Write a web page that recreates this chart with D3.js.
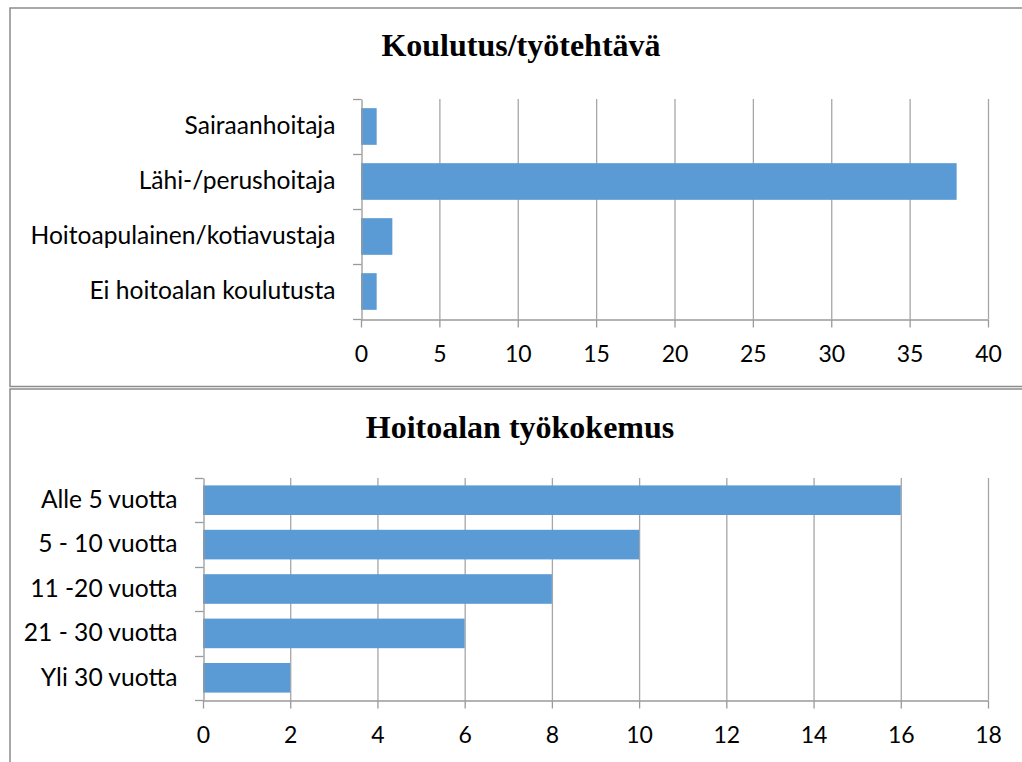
<!DOCTYPE html>
<html>
<head>
<meta charset="utf-8">
<script src="https://cdn.jsdelivr.net/npm/d3@7"></script>
<style>
  body { margin: 0; background: #fff; }
  svg { display: block; }
  .tick text { font-family: Lato, "Open Sans", sans-serif; fill: #000; }
</style>
</head>
<body>
<svg id="the-svg" width="1022" height="762"></svg>
<script>
// chart 1: Koulutus/työtehtävä
var eduCategories = ["Sairaanhoitaja", "Lähi-/perushoitaja", "Hoitoapulainen/kotiavustaja", "Ei hoitoalan koulutusta"];
var eduValues = [1, 38, 2, 1];
var eduTicks = [0, 5, 10, 15, 20, 25, 30, 35, 40];

// chart 2: Hoitoalan työkokemus
var expCategories = ["Alle 5 vuotta", "5 - 10 vuotta", "11 -20 vuotta", "21 - 30 vuotta", "Yli 30 vuotta"];
var expValues = [16, 10, 8, 6, 2];
var expTicks = [0, 2, 4, 6, 8, 10, 12, 14, 16, 18];

var barColor = "#5b9bd5";
var gridColor = "#a6a6a6";
var axisColor = "#9a9a9a";
var frameColor = "#8c8c8c";

var theSvg = d3.select("#the-svg");
theSvg.append("rect").attr("width", 1022).attr("height", 762).attr("fill", "#fff");

var drawChart = function(opt) {
    var g = theSvg.append("g");

    // chart frame (left, top, bottom edges; right side runs off the page)
    g.append("path")
        .attr("d", "M1022," + opt.box[1] + "H" + opt.box[0] + "V" + opt.box[2] + (opt.box[3] ? "H1022" : ""))
        .attr("fill", "none")
        .attr("stroke", frameColor)
        .attr("stroke-width", 1.5);

    g.append("text")
        .attr("x", opt.titleX)
        .attr("y", opt.titleY)
        .attr("text-anchor", "middle")
        .attr("font-family", "'Liberation Serif', 'Times New Roman', serif")
        .attr("font-weight", "bold")
        .attr("font-size", 32)
        .attr("fill", "#000")
        .text(opt.title);

    var x = d3.scaleLinear().domain([0, d3.max(opt.ticks)]).range(opt.xRange);
    var y = d3.scaleBand().domain(opt.categories).range(opt.yRange)
        .paddingInner(1 / 3).paddingOuter(1 / 6);

    // vertical gridlines
    g.append("g")
        .selectAll("line")
        .data(opt.ticks.slice(1))
        .enter().append("line")
            .attr("x1", function(d) { return x(d) + 0.5; })
            .attr("x2", function(d) { return x(d) + 0.5; })
            .attr("y1", opt.yRange[0])
            .attr("y2", opt.yRange[1])
            .attr("stroke", gridColor)
            .attr("stroke-width", 1.3);

    // bars
    g.append("g")
        .selectAll("rect")
        .data(opt.values)
        .enter().append("rect")
            .attr("x", x(0))
            .attr("y", function(d, i) { return y(opt.categories[i]); })
            .attr("width", function(d) { return x(d) - x(0); })
            .attr("height", y.bandwidth())
            .attr("fill", barColor);

    // x axis
    var xAxis = g.append("g")
        .attr("transform", "translate(0," + (opt.yRange[1] + 0.5) + ")")
        .call(d3.axisBottom(x).tickValues(opt.ticks).tickSize(8).tickSizeOuter(0).tickPadding(18));
    xAxis.selectAll("text").attr("font-size", 23);

    // y axis with category labels
    var yAxis = g.append("g")
        .attr("transform", "translate(" + (opt.xRange[0] + 0.5) + ",0)")
        .call(d3.axisLeft(y).tickSize(0).tickSizeOuter(0).tickPadding(26));
    yAxis.selectAll("text").attr("font-size", 24.6);

    // category boundary ticks on the y axis
    var gap = (y.step() - y.bandwidth()) / 2;
    var bounds = opt.categories.map(function(c) { return y(c) - gap; });
    bounds.push(opt.yRange[1]);
    g.append("g")
        .selectAll("line")
        .data(bounds)
        .enter().append("line")
            .attr("x1", opt.xRange[0] - 8)
            .attr("x2", opt.xRange[0] + 0.5)
            .attr("y1", function(d) { return Math.round(d) + 0.5; })
            .attr("y2", function(d) { return Math.round(d) + 0.5; })
            .attr("stroke", axisColor)
            .attr("stroke-width", 1.3);

    g.selectAll(".domain, .tick line")
        .attr("stroke", axisColor)
        .attr("stroke-width", 1.3);
};

drawChart({
    title: "Koulutus/työtehtävä",
    categories: eduCategories,
    values: eduValues,
    ticks: eduTicks,
    box: [10, 8, 386.5, true],
    titleX: 521,
    titleY: 56,
    xRange: [361, 988],
    yRange: [99, 319]
});

drawChart({
    title: "Hoitoalan työkokemus",
    categories: expCategories,
    values: expValues,
    ticks: expTicks,
    box: [10, 389, 762, false],
    titleX: 520,
    titleY: 438,
    xRange: [203, 988],
    yRange: [478, 700]
});
</script>
</body>
</html>
